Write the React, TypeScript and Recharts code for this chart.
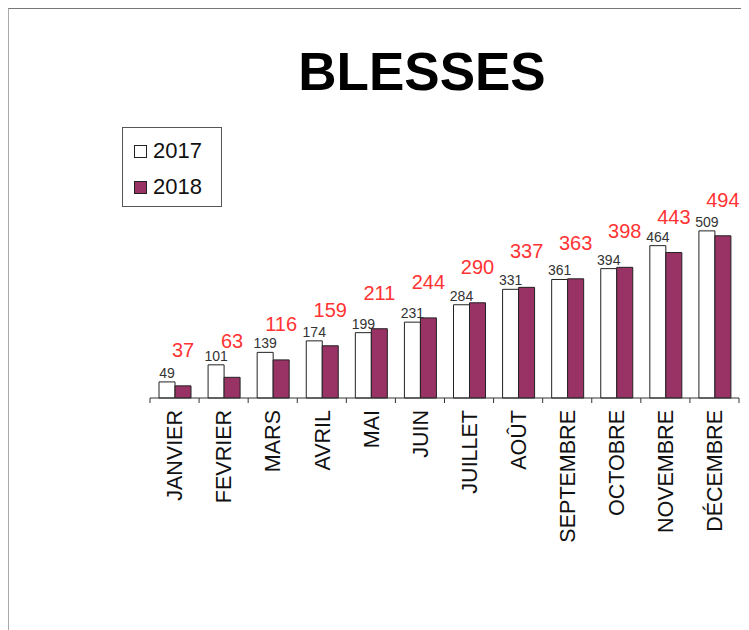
import React from "react";
import { BarChart, Bar, XAxis, YAxis, LabelList } from "recharts";

const months = ["JANVIER", "FEVRIER", "MARS", "AVRIL", "MAI", "JUIN", "JUILLET", "AOÛT", "SEPTEMBRE", "OCTOBRE", "NOVEMBRE", "DÉCEMBRE"];
const values2017 = [49, 101, 139, 174, 199, 231, 284, 331, 361, 394, 464, 509];
const values2018 = [37, 63, 116, 159, 211, 244, 290, 337, 363, 398, 443, 494];
const seriesNames = ["2017", "2018"];

const data = months.map((m, i) => ({ month: m, y2017: values2017[i], y2018: values2018[i] }));

const W = 740;
const H = 621;
const M = { top: 192, right: 10, bottom: 92, left: 141 };
const BAND = (W - M.left - M.right) / months.length;
const FONT = "'Liberation Sans', Arial, sans-serif";
const PLUM = "#993366";

const MonthTick = (props: any) => {
  const { x, y, payload, index } = props;
  const left = x - BAND / 2;
  return (
    <g>
      <line x1={left} y1={y} x2={left} y2={y + 5} stroke="#333" strokeWidth={1} />
      {index === months.length - 1 && (
        <line x1={x + BAND / 2} y1={y} x2={x + BAND / 2} y2={y + 5} stroke="#333" strokeWidth={1} />
      )}
      <text
        x={x}
        y={y + 12}
        transform={`rotate(-90, ${x}, ${y + 12})`}
        textAnchor="end"
        dy="0.36em"
        fontSize={21.5}
        fontFamily={FONT}
        fill="#111"
      >
        {payload.value}
      </text>
    </g>
  );
};

const LegendBox = () => (
  <div
    style={{
      position: "absolute",
      left: 113,
      top: 118,
      border: "1px solid #555",
      width: 100,
      height: 80,
      boxSizing: "border-box",
      background: "#fff",
      fontFamily: FONT,
      fontSize: 22,
      color: "#111",
      padding: "5px 0 0 11px",
      zIndex: 2,
    }}
  >
    {[
      { label: seriesNames[0], fill: "#fff" },
      { label: seriesNames[1], fill: PLUM },
    ].map((it) => (
      <div key={it.label} style={{ display: "flex", alignItems: "center", height: 36 }}>
        <span
          style={{
            display: "inline-block",
            width: 13,
            height: 13,
            border: "1px solid #222",
            background: it.fill,
            marginRight: 6,
            boxSizing: "border-box",
          }}
        />
        <span>{it.label}</span>
      </div>
    ))}
  </div>
);

export default function App() {
  return (
    <div
      style={{
        position: "relative",
        width: W,
        height: H,
        borderTop: "1px solid #777",
        borderLeft: "1px solid #aaa",
        fontFamily: FONT,
        background: "#fff",
      }}
    >
      <div
        style={{
          position: "absolute",
          left: 0,
          width: 826,
          top: 36,
          textAlign: "center",
          fontSize: 53,
          fontWeight: "bold",
          lineHeight: 1,
          color: "#000",
          fontFamily: FONT,
          zIndex: 2,
        }}
      >
        BLESSES
      </div>
      <LegendBox />
      <BarChart width={W} height={H} data={data} margin={M} barGap={0}>
        <XAxis
          dataKey="month"
          interval={0}
          tickLine={false}
          tickSize={0}
          tickMargin={0}
          height={140}
          axisLine={{ stroke: "#333" }}
          tick={<MonthTick />}
        />
        <YAxis hide domain={[0, 600]} />
        <Bar dataKey="y2017" name={seriesNames[0]} fill="#fff" stroke="#222" strokeWidth={1} barSize={16} isAnimationActive={false}>
          <LabelList dataKey="y2017" position="top" offset={4} fill="#333" fontSize={14} fontFamily={FONT} />
        </Bar>
        <Bar dataKey="y2018" name={seriesNames[1]} fill={PLUM} stroke="#222" strokeWidth={1} barSize={16} isAnimationActive={false}>
          <LabelList dataKey="y2018" position="top" offset={29} fill="#ff3333" fontSize={20} fontFamily={FONT} />
        </Bar>
      </BarChart>
    </div>
  );
}
